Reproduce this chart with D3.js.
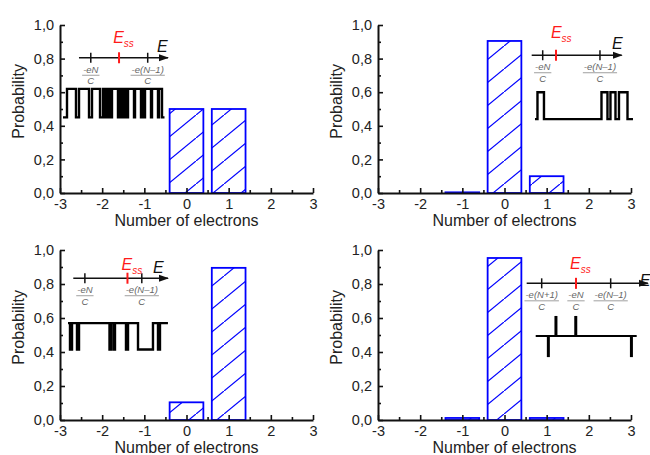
<!DOCTYPE html>
<html>
<head>
<meta charset="utf-8">
<script src="https://cdn.jsdelivr.net/npm/d3@7"></script>
<style>
  body { margin: 0; background: #fff; }
  text { font-family: "Liberation Sans", Arial, sans-serif; }
</style>
</head>
<body>
<svg width="650" height="455"></svg>
<script>
// bar data: probability of each excess electron number
const electrons = [-1, 0, 1];
const probA = [0, 0.5, 0.5];
const probB = [0.004, 0.905, 0.1];
const probC = [0, 0.104, 0.895];
const probD = [0.012, 0.953, 0.012];

const xTicks = [-3, -2, -1, 0, 1, 2, 3];
const xMinor = [-2.5, -1.5, -0.5, 0.5, 1.5, 2.5];
const yTicks = [0, 0.2, 0.4, 0.6, 0.8, 1.0];
const yMinor = [0.1, 0.3, 0.5, 0.7, 0.9];

// inset energy axes (positions in plot units)
const energyTicksA = [-2.27, -0.92];
const energyTicksB = [0.906, 2.264];
const energyTicksC = [-2.41, -1.06];
const energyTicksD = [0.882, 1.695, 2.518];
const energyLabelsAB = ["-eN", "-e(N\u20131)"];
const energyLabelsD = ["-e(N+1)", "-eN", "-e(N\u20131)"];
const essA = -1.60, essB = 1.221, essC = -1.40, essD = 1.695;

// telegraph traces: switch points between the two levels
const traceA = [-2.834, -2.621, -2.549, -2.312, -2.241, -2.051, -1.980, -1.933, -1.909, -1.862,
  -1.838, -1.791, -1.767, -1.625, -1.601, -1.553, -1.530, -1.482, -1.459, -1.411, -1.387,
  -1.245, -1.221, -1.079, -1.055, -1.008, -0.984, -0.842, -0.818, -0.676, -0.652, -0.581];
const traceB = [0.782, 0.936, 2.300, 2.442, 2.513, 2.632, 2.715, 2.917];
const traceC = [-2.763, -2.715, -2.597, -2.549, -1.826, -1.791, -1.731, -1.696, -1.435, -1.387,
  -1.15, -0.795, -0.676, -0.629];
const spikesD = [[1.04, 0.37], [1.22, 0.612], [1.69, 0.612], [3.01, 0.37]];

const svg = d3.select("svg");
const blue = "#0000ff";

let defs = svg.append("defs");
let hatch = defs.append("pattern")
    .attr("id", "hatch")
    .attr("patternUnits", "userSpaceOnUse")
    .attr("width", 28).attr("height", 23);
hatch.append("rect").attr("width", 28).attr("height", 23).attr("fill", "#fff");
hatch.append("path")
    .attr("d", "M-28,46 L56,-23")
    .attr("stroke", blue).attr("stroke-width", 1.2);

defs.append("marker")
    .attr("id", "arrow")
    .attr("markerUnits", "userSpaceOnUse")
    .attr("viewBox", "0 -4 10 8")
    .attr("refX", 9).attr("refY", 0)
    .attr("markerWidth", 10).attr("markerHeight", 8)
    .attr("orient", "auto")
    .append("path")
    .attr("d", "M0,-3.5 L10,0 L0,3.5 Z")
    .attr("fill", "#111");

const panels = [
    { probs: probA, left: 60, top: 25, bottom: 193,
      level: 0.805, arrow: [-2.55, -0.44], ticks: energyTicksA, labels: energyLabelsAB, ess: essA,
      essLabel: [-1.74, 0.89], eLabel: [-0.70, 0.84],
      trace: traceA, traceRange: [-2.929, -0.522], hi: 0.62, lo: 0.45, startHigh: false },
    { probs: probB, left: 378, top: 25, bottom: 193,
      level: 0.82, arrow: [0.645, 2.779], ticks: energyTicksB, labels: energyLabelsAB, ess: essB,
      essLabel: [1.10, 0.925], eLabel: [2.55, 0.858],
      trace: traceB, traceRange: [0.723, 3.047], hi: 0.60, lo: 0.44, startHigh: false },
    { probs: probC, left: 60, top: 250, bottom: 420,
      level: 0.834, arrow: [-2.685, -0.44], ticks: energyTicksC, labels: energyLabelsAB, ess: essC,
      essLabel: [-1.54, 0.885], eLabel: [-0.795, 0.865],
      trace: traceC, traceRange: [-2.81, -0.44], hi: 0.57, lo: 0.415, startHigh: true },
    { probs: probD, left: 378, top: 250, bottom: 420,
      level: 0.804, arrow: [0.526, 3.40], ticks: energyTicksD, labels: energyLabelsD, ess: essD,
      essLabel: [1.553, 0.89], eLabel: [3.21, 0.79],
      spikes: spikesD, traceRange: [0.74, 3.135], base: 0.494 }
];

panels.forEach(drawPanel);

function drawPanel(p) {
    let x = d3.scaleLinear().domain([-3, 3]).range([p.left, p.left + 253]);
    let y = d3.scaleLinear().domain([0, 1]).range([p.bottom, p.top]);
    let g = svg.append("g");

    let bars = electrons.map((n, i) => ({ n: n, v: p.probs[i] })).filter(d => d.v > 0);
    g.selectAll("rect.bar")
        .data(bars)
        .join("rect")
        .attr("class", "bar")
        .attr("x", d => x(d.n - 0.4))
        .attr("width", x(0.8) - x(0))
        .attr("y", d => y(d.v))
        .attr("height", d => y(0) - y(d.v))
        .attr("fill", "url(#hatch)")
        .attr("stroke", blue)
        .attr("stroke-width", 1.8);

    // axes, ticks pointing inward
    g.append("g").attr("transform", `translate(0,${p.bottom})`)
        .call(d3.axisBottom(x).tickValues(xTicks).tickSize(-5).tickSizeOuter(0)
            .tickPadding(6).tickFormat(d => String(d)));
    g.append("g").attr("transform", `translate(0,${p.bottom})`)
        .call(d3.axisBottom(x).tickValues(xMinor).tickSize(-3).tickSizeOuter(0).tickFormat(""))
        .call(a => a.select(".domain").remove());
    g.append("g").attr("transform", `translate(${p.left},0)`)
        .call(d3.axisLeft(y).tickValues(yTicks).tickSize(-5).tickSizeOuter(0)
            .tickPadding(6).tickFormat(d => d.toFixed(1).replace(".", ",")));
    g.append("g").attr("transform", `translate(${p.left},0)`)
        .call(d3.axisLeft(y).tickValues(yMinor).tickSize(-3).tickSizeOuter(0).tickFormat(""))
        .call(a => a.select(".domain").remove());

    g.selectAll(".domain").attr("stroke", "#111").attr("stroke-width", 2);
    g.selectAll(".tick line").attr("stroke", "#111").attr("stroke-width", 1.6);
    g.selectAll(".tick text").attr("fill", "#222").style("font-size", "14.5px")
        .style("font-family", "'Liberation Sans', Arial, sans-serif");

    g.append("text")
        .attr("x", (x(-3) + x(3)) / 2)
        .attr("y", p.bottom + 33)
        .attr("text-anchor", "middle")
        .attr("fill", "#222")
        .style("font-size", "16px")
        .text("Number of electrons");

    g.append("text")
        .attr("transform", `translate(${p.left - 36},${y(0.545)}) rotate(-90)`)
        .attr("text-anchor", "middle")
        .attr("fill", "#222")
        .style("font-size", "16px")
        .text("Probability");

    drawInset(g, x, y, p);
}

function drawInset(g, x, y, p) {
    let ly = y(p.level);

    g.append("line")
        .attr("x1", x(p.arrow[0])).attr("x2", x(p.arrow[1]))
        .attr("y1", ly).attr("y2", ly)
        .attr("stroke", "#111").attr("stroke-width", 1.5)
        .attr("marker-end", "url(#arrow)");

    p.ticks.forEach((t, i) => {
        g.append("line")
            .attr("x1", x(t)).attr("x2", x(t))
            .attr("y1", ly - 5).attr("y2", ly + 5)
            .attr("stroke", "#111").attr("stroke-width", 1.5);

        let num = g.append("text")
            .attr("x", x(t)).attr("y", ly + 15)
            .attr("text-anchor", "middle")
            .attr("fill", "#666")
            .style("font-size", "9.5px").style("font-style", "italic")
            .text(p.labels[i]);
        let w = num.node().getComputedTextLength();
        g.append("line")
            .attr("x1", x(t) - w / 2 - 1).attr("x2", x(t) + w / 2 + 1)
            .attr("y1", ly + 17.5).attr("y2", ly + 17.5)
            .attr("stroke", "#888").attr("stroke-width", 0.8);
        g.append("text")
            .attr("x", x(t)).attr("y", ly + 26.5)
            .attr("text-anchor", "middle")
            .attr("fill", "#666")
            .style("font-size", "9.5px").style("font-style", "italic")
            .text("C");
    });

    g.append("line")
        .attr("x1", x(p.ess)).attr("x2", x(p.ess))
        .attr("y1", ly - 5.5).attr("y2", ly + 5.5)
        .attr("stroke", "#ff1a1a").attr("stroke-width", 2);

    let ess = g.append("text")
        .attr("x", x(p.essLabel[0])).attr("y", y(p.essLabel[1]))
        .attr("fill", "#ff1a1a")
        .style("font-style", "italic");
    ess.append("tspan").style("font-size", "16px").text("E");
    ess.append("tspan").attr("dy", 4).style("font-size", "10px").text("ss");

    g.append("text")
        .attr("x", x(p.eLabel[0])).attr("y", y(p.eLabel[1]))
        .attr("fill", "#111")
        .style("font-size", "16px").style("font-style", "italic")
        .text("E");

    if (p.trace) {
        let high = p.startHigh;
        let d = `M${x(p.traceRange[0])},${y(high ? p.hi : p.lo)}`;
        p.trace.forEach(t => {
            high = !high;
            d += `H${x(t)}V${y(high ? p.hi : p.lo)}`;
        });
        d += `H${x(p.traceRange[1])}`;
        g.append("path")
            .attr("d", d)
            .attr("fill", "none")
            .attr("stroke", "#000")
            .attr("stroke-width", 2.4);
    } else {
        g.append("line")
            .attr("x1", x(p.traceRange[0])).attr("x2", x(p.traceRange[1]))
            .attr("y1", y(p.base)).attr("y2", y(p.base))
            .attr("stroke", "#000").attr("stroke-width", 2);
        g.selectAll("line.spike")
            .data(p.spikes)
            .join("line")
            .attr("class", "spike")
            .attr("x1", d => x(d[0])).attr("x2", d => x(d[0]))
            .attr("y1", y(p.base)).attr("y2", d => y(d[1]))
            .attr("stroke", "#000").attr("stroke-width", 3);
    }
}
</script>
</body>
</html>
